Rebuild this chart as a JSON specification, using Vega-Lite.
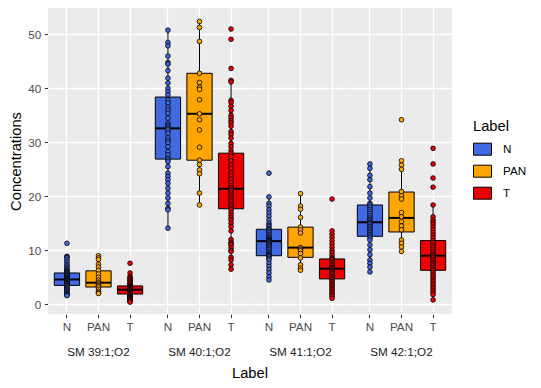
{
"$schema": "https://vega.github.io/schema/vega-lite/v6.json",
"padding": {"left": 8, "top": 8, "right": 5, "bottom": 5},
"background": "white",
"datasets": {
"rows": [
{"group":"SM 39:1;O2","Label":"N","lower":1.6,"q1":3.5,"median":4.6,"q3":5.8,"upper":8.9},
{"group":"SM 39:1;O2","Label":"PAN","lower":2.0,"q1":3.2,"median":4.0,"q3":6.2,"upper":9.0},
{"group":"SM 39:1;O2","Label":"T","lower":0.4,"q1":1.9,"median":2.7,"q3":3.4,"upper":5.8},
{"group":"SM 40:1;O2","Label":"N","lower":14.1,"q1":26.9,"median":32.6,"q3":38.4,"upper":50.8},
{"group":"SM 40:1;O2","Label":"PAN","lower":18.4,"q1":26.7,"median":35.3,"q3":42.8,"upper":52.4},
{"group":"SM 40:1;O2","Label":"T","lower":6.5,"q1":17.7,"median":21.4,"q3":28.0,"upper":41.7},
{"group":"SM 41:1;O2","Label":"N","lower":4.5,"q1":9.0,"median":11.7,"q3":13.9,"upper":19.9},
{"group":"SM 41:1;O2","Label":"PAN","lower":6.3,"q1":8.7,"median":10.5,"q3":14.3,"upper":20.5},
{"group":"SM 41:1;O2","Label":"T","lower":1.1,"q1":4.7,"median":6.6,"q3":8.4,"upper":13.6},
{"group":"SM 42:1;O2","Label":"N","lower":6.0,"q1":12.6,"median":15.2,"q3":18.4,"upper":26.0},
{"group":"SM 42:1;O2","Label":"PAN","lower":9.8,"q1":13.4,"median":16.0,"q3":20.8,"upper":26.6},
{"group":"SM 42:1;O2","Label":"T","lower":0.7,"q1":6.3,"median":9.0,"q3":11.8,"upper":18.4},
{"group":"SM 39:1;O2","Label":"N","value":11.3},{"group":"SM 39:1;O2","Label":"N","value":8.9},{"group":"SM 39:1;O2","Label":"N","value":8.8},{"group":"SM 39:1;O2","Label":"N","value":8.6},{"group":"SM 39:1;O2","Label":"N","value":8.2},{"group":"SM 39:1;O2","Label":"N","value":7.8},{"group":"SM 39:1;O2","Label":"N","value":7.4},{"group":"SM 39:1;O2","Label":"N","value":7.1},{"group":"SM 39:1;O2","Label":"N","value":6.8},{"group":"SM 39:1;O2","Label":"N","value":6.5},{"group":"SM 39:1;O2","Label":"N","value":6.3},{"group":"SM 39:1;O2","Label":"N","value":6.1},{"group":"SM 39:1;O2","Label":"N","value":5.9},{"group":"SM 39:1;O2","Label":"N","value":5.8},{"group":"SM 39:1;O2","Label":"N","value":5.6},{"group":"SM 39:1;O2","Label":"N","value":5.5},{"group":"SM 39:1;O2","Label":"N","value":5.3},{"group":"SM 39:1;O2","Label":"N","value":5.2},{"group":"SM 39:1;O2","Label":"N","value":5.0},{"group":"SM 39:1;O2","Label":"N","value":4.9},{"group":"SM 39:1;O2","Label":"N","value":4.8},{"group":"SM 39:1;O2","Label":"N","value":4.7},{"group":"SM 39:1;O2","Label":"N","value":4.6},{"group":"SM 39:1;O2","Label":"N","value":4.5},{"group":"SM 39:1;O2","Label":"N","value":4.4},{"group":"SM 39:1;O2","Label":"N","value":4.3},{"group":"SM 39:1;O2","Label":"N","value":4.2},{"group":"SM 39:1;O2","Label":"N","value":4.1},{"group":"SM 39:1;O2","Label":"N","value":4.0},{"group":"SM 39:1;O2","Label":"N","value":3.9},{"group":"SM 39:1;O2","Label":"N","value":3.8},{"group":"SM 39:1;O2","Label":"N","value":3.7},{"group":"SM 39:1;O2","Label":"N","value":3.6},{"group":"SM 39:1;O2","Label":"N","value":3.5},{"group":"SM 39:1;O2","Label":"N","value":3.4},{"group":"SM 39:1;O2","Label":"N","value":3.2},{"group":"SM 39:1;O2","Label":"N","value":3.0},{"group":"SM 39:1;O2","Label":"N","value":2.8},{"group":"SM 39:1;O2","Label":"N","value":2.6},{"group":"SM 39:1;O2","Label":"N","value":2.4},{"group":"SM 39:1;O2","Label":"N","value":2.2},{"group":"SM 39:1;O2","Label":"N","value":2.0},{"group":"SM 39:1;O2","Label":"N","value":1.8},{"group":"SM 39:1;O2","Label":"N","value":1.7},{"group":"SM 39:1;O2","Label":"N","value":1.6},
{"group":"SM 39:1;O2","Label":"PAN","value":9.0},{"group":"SM 39:1;O2","Label":"PAN","value":8.6},{"group":"SM 39:1;O2","Label":"PAN","value":8.3},{"group":"SM 39:1;O2","Label":"PAN","value":7.4},{"group":"SM 39:1;O2","Label":"PAN","value":6.9},{"group":"SM 39:1;O2","Label":"PAN","value":6.3},{"group":"SM 39:1;O2","Label":"PAN","value":5.6},{"group":"SM 39:1;O2","Label":"PAN","value":5.0},{"group":"SM 39:1;O2","Label":"PAN","value":4.5},{"group":"SM 39:1;O2","Label":"PAN","value":4.1},{"group":"SM 39:1;O2","Label":"PAN","value":3.9},{"group":"SM 39:1;O2","Label":"PAN","value":3.6},{"group":"SM 39:1;O2","Label":"PAN","value":3.4},{"group":"SM 39:1;O2","Label":"PAN","value":3.2},{"group":"SM 39:1;O2","Label":"PAN","value":2.8},{"group":"SM 39:1;O2","Label":"PAN","value":2.4},{"group":"SM 39:1;O2","Label":"PAN","value":2.1},{"group":"SM 39:1;O2","Label":"PAN","value":2.0},
{"group":"SM 39:1;O2","Label":"T","value":7.6},{"group":"SM 39:1;O2","Label":"T","value":5.8},{"group":"SM 39:1;O2","Label":"T","value":5.2},{"group":"SM 39:1;O2","Label":"T","value":4.9},{"group":"SM 39:1;O2","Label":"T","value":4.7},{"group":"SM 39:1;O2","Label":"T","value":4.5},{"group":"SM 39:1;O2","Label":"T","value":4.3},{"group":"SM 39:1;O2","Label":"T","value":4.1},{"group":"SM 39:1;O2","Label":"T","value":3.9},{"group":"SM 39:1;O2","Label":"T","value":3.7},{"group":"SM 39:1;O2","Label":"T","value":3.5},{"group":"SM 39:1;O2","Label":"T","value":3.4},{"group":"SM 39:1;O2","Label":"T","value":3.3},{"group":"SM 39:1;O2","Label":"T","value":3.2},{"group":"SM 39:1;O2","Label":"T","value":3.1},{"group":"SM 39:1;O2","Label":"T","value":3.0},{"group":"SM 39:1;O2","Label":"T","value":2.9},{"group":"SM 39:1;O2","Label":"T","value":2.8},{"group":"SM 39:1;O2","Label":"T","value":2.75},{"group":"SM 39:1;O2","Label":"T","value":2.7},{"group":"SM 39:1;O2","Label":"T","value":2.65},{"group":"SM 39:1;O2","Label":"T","value":2.6},{"group":"SM 39:1;O2","Label":"T","value":2.5},{"group":"SM 39:1;O2","Label":"T","value":2.4},{"group":"SM 39:1;O2","Label":"T","value":2.3},{"group":"SM 39:1;O2","Label":"T","value":2.2},{"group":"SM 39:1;O2","Label":"T","value":2.1},{"group":"SM 39:1;O2","Label":"T","value":2.0},{"group":"SM 39:1;O2","Label":"T","value":1.95},{"group":"SM 39:1;O2","Label":"T","value":1.9},{"group":"SM 39:1;O2","Label":"T","value":1.8},{"group":"SM 39:1;O2","Label":"T","value":1.7},{"group":"SM 39:1;O2","Label":"T","value":1.6},{"group":"SM 39:1;O2","Label":"T","value":1.5},{"group":"SM 39:1;O2","Label":"T","value":1.4},{"group":"SM 39:1;O2","Label":"T","value":1.3},{"group":"SM 39:1;O2","Label":"T","value":1.2},{"group":"SM 39:1;O2","Label":"T","value":1.1},{"group":"SM 39:1;O2","Label":"T","value":1.0},{"group":"SM 39:1;O2","Label":"T","value":0.9},{"group":"SM 39:1;O2","Label":"T","value":0.8},{"group":"SM 39:1;O2","Label":"T","value":0.6},{"group":"SM 39:1;O2","Label":"T","value":0.5},{"group":"SM 39:1;O2","Label":"T","value":0.4},
{"group":"SM 40:1;O2","Label":"N","value":50.8},{"group":"SM 40:1;O2","Label":"N","value":48.5},{"group":"SM 40:1;O2","Label":"N","value":47.9},{"group":"SM 40:1;O2","Label":"N","value":46.0},{"group":"SM 40:1;O2","Label":"N","value":44.8},{"group":"SM 40:1;O2","Label":"N","value":44.5},{"group":"SM 40:1;O2","Label":"N","value":43.3},{"group":"SM 40:1;O2","Label":"N","value":41.9},{"group":"SM 40:1;O2","Label":"N","value":41.0},{"group":"SM 40:1;O2","Label":"N","value":40.0},{"group":"SM 40:1;O2","Label":"N","value":39.4},{"group":"SM 40:1;O2","Label":"N","value":38.8},{"group":"SM 40:1;O2","Label":"N","value":37.9},{"group":"SM 40:1;O2","Label":"N","value":37.3},{"group":"SM 40:1;O2","Label":"N","value":36.5},{"group":"SM 40:1;O2","Label":"N","value":36.0},{"group":"SM 40:1;O2","Label":"N","value":35.4},{"group":"SM 40:1;O2","Label":"N","value":34.5},{"group":"SM 40:1;O2","Label":"N","value":33.6},{"group":"SM 40:1;O2","Label":"N","value":33.2},{"group":"SM 40:1;O2","Label":"N","value":32.9},{"group":"SM 40:1;O2","Label":"N","value":32.6},{"group":"SM 40:1;O2","Label":"N","value":32.3},{"group":"SM 40:1;O2","Label":"N","value":31.7},{"group":"SM 40:1;O2","Label":"N","value":30.8},{"group":"SM 40:1;O2","Label":"N","value":30.3},{"group":"SM 40:1;O2","Label":"N","value":29.9},{"group":"SM 40:1;O2","Label":"N","value":29.2},{"group":"SM 40:1;O2","Label":"N","value":28.3},{"group":"SM 40:1;O2","Label":"N","value":27.7},{"group":"SM 40:1;O2","Label":"N","value":27.1},{"group":"SM 40:1;O2","Label":"N","value":26.8},{"group":"SM 40:1;O2","Label":"N","value":26.4},{"group":"SM 40:1;O2","Label":"N","value":25.5},{"group":"SM 40:1;O2","Label":"N","value":24.3},{"group":"SM 40:1;O2","Label":"N","value":23.7},{"group":"SM 40:1;O2","Label":"N","value":23.1},{"group":"SM 40:1;O2","Label":"N","value":22.4},{"group":"SM 40:1;O2","Label":"N","value":21.5},{"group":"SM 40:1;O2","Label":"N","value":20.6},{"group":"SM 40:1;O2","Label":"N","value":19.7},{"group":"SM 40:1;O2","Label":"N","value":18.7},{"group":"SM 40:1;O2","Label":"N","value":17.8},{"group":"SM 40:1;O2","Label":"N","value":17.5},{"group":"SM 40:1;O2","Label":"N","value":14.1},
{"group":"SM 40:1;O2","Label":"PAN","value":52.4},{"group":"SM 40:1;O2","Label":"PAN","value":51.3},{"group":"SM 40:1;O2","Label":"PAN","value":48.7},{"group":"SM 40:1;O2","Label":"PAN","value":42.8},{"group":"SM 40:1;O2","Label":"PAN","value":41.1},{"group":"SM 40:1;O2","Label":"PAN","value":40.2},{"group":"SM 40:1;O2","Label":"PAN","value":39.8},{"group":"SM 40:1;O2","Label":"PAN","value":37.9},{"group":"SM 40:1;O2","Label":"PAN","value":35.3},{"group":"SM 40:1;O2","Label":"PAN","value":34.2},{"group":"SM 40:1;O2","Label":"PAN","value":32.3},{"group":"SM 40:1;O2","Label":"PAN","value":29.1},{"group":"SM 40:1;O2","Label":"PAN","value":26.7},{"group":"SM 40:1;O2","Label":"PAN","value":25.9},{"group":"SM 40:1;O2","Label":"PAN","value":24.9},{"group":"SM 40:1;O2","Label":"PAN","value":24.2},{"group":"SM 40:1;O2","Label":"PAN","value":20.6},{"group":"SM 40:1;O2","Label":"PAN","value":18.4},
{"group":"SM 40:1;O2","Label":"T","value":51.0},{"group":"SM 40:1;O2","Label":"T","value":49.1},{"group":"SM 40:1;O2","Label":"T","value":43.7},{"group":"SM 40:1;O2","Label":"T","value":41.5},{"group":"SM 40:1;O2","Label":"T","value":41.2},{"group":"SM 40:1;O2","Label":"T","value":37.8},{"group":"SM 40:1;O2","Label":"T","value":37.4},{"group":"SM 40:1;O2","Label":"T","value":36.7},{"group":"SM 40:1;O2","Label":"T","value":35.9},{"group":"SM 40:1;O2","Label":"T","value":35.0},{"group":"SM 40:1;O2","Label":"T","value":34.5},{"group":"SM 40:1;O2","Label":"T","value":34.0},{"group":"SM 40:1;O2","Label":"T","value":33.6},{"group":"SM 40:1;O2","Label":"T","value":33.0},{"group":"SM 40:1;O2","Label":"T","value":32.0},{"group":"SM 40:1;O2","Label":"T","value":31.5},{"group":"SM 40:1;O2","Label":"T","value":30.8},{"group":"SM 40:1;O2","Label":"T","value":29.8},{"group":"SM 40:1;O2","Label":"T","value":29.2},{"group":"SM 40:1;O2","Label":"T","value":28.5},{"group":"SM 40:1;O2","Label":"T","value":28.0},{"group":"SM 40:1;O2","Label":"T","value":27.4},{"group":"SM 40:1;O2","Label":"T","value":26.6},{"group":"SM 40:1;O2","Label":"T","value":25.8},{"group":"SM 40:1;O2","Label":"T","value":25.2},{"group":"SM 40:1;O2","Label":"T","value":24.3},{"group":"SM 40:1;O2","Label":"T","value":23.8},{"group":"SM 40:1;O2","Label":"T","value":23.2},{"group":"SM 40:1;O2","Label":"T","value":22.6},{"group":"SM 40:1;O2","Label":"T","value":22.0},{"group":"SM 40:1;O2","Label":"T","value":21.6},{"group":"SM 40:1;O2","Label":"T","value":21.3},{"group":"SM 40:1;O2","Label":"T","value":21.0},{"group":"SM 40:1;O2","Label":"T","value":20.6},{"group":"SM 40:1;O2","Label":"T","value":20.2},{"group":"SM 40:1;O2","Label":"T","value":19.8},{"group":"SM 40:1;O2","Label":"T","value":19.4},{"group":"SM 40:1;O2","Label":"T","value":19.0},{"group":"SM 40:1;O2","Label":"T","value":18.6},{"group":"SM 40:1;O2","Label":"T","value":18.2},{"group":"SM 40:1;O2","Label":"T","value":17.8},{"group":"SM 40:1;O2","Label":"T","value":17.5},{"group":"SM 40:1;O2","Label":"T","value":17.0},{"group":"SM 40:1;O2","Label":"T","value":16.5},{"group":"SM 40:1;O2","Label":"T","value":16.0},{"group":"SM 40:1;O2","Label":"T","value":15.6},{"group":"SM 40:1;O2","Label":"T","value":15.0},{"group":"SM 40:1;O2","Label":"T","value":14.4},{"group":"SM 40:1;O2","Label":"T","value":13.6},{"group":"SM 40:1;O2","Label":"T","value":12.0},{"group":"SM 40:1;O2","Label":"T","value":11.5},{"group":"SM 40:1;O2","Label":"T","value":11.2},{"group":"SM 40:1;O2","Label":"T","value":11.0},{"group":"SM 40:1;O2","Label":"T","value":10.5},{"group":"SM 40:1;O2","Label":"T","value":10.0},{"group":"SM 40:1;O2","Label":"T","value":9.8},{"group":"SM 40:1;O2","Label":"T","value":8.7},{"group":"SM 40:1;O2","Label":"T","value":8.2},{"group":"SM 40:1;O2","Label":"T","value":7.3},{"group":"SM 40:1;O2","Label":"T","value":6.5},
{"group":"SM 41:1;O2","Label":"N","value":24.3},{"group":"SM 41:1;O2","Label":"N","value":19.9},{"group":"SM 41:1;O2","Label":"N","value":18.7},{"group":"SM 41:1;O2","Label":"N","value":18.2},{"group":"SM 41:1;O2","Label":"N","value":17.5},{"group":"SM 41:1;O2","Label":"N","value":16.9},{"group":"SM 41:1;O2","Label":"N","value":16.3},{"group":"SM 41:1;O2","Label":"N","value":15.6},{"group":"SM 41:1;O2","Label":"N","value":15.0},{"group":"SM 41:1;O2","Label":"N","value":14.6},{"group":"SM 41:1;O2","Label":"N","value":14.4},{"group":"SM 41:1;O2","Label":"N","value":14.0},{"group":"SM 41:1;O2","Label":"N","value":13.8},{"group":"SM 41:1;O2","Label":"N","value":13.5},{"group":"SM 41:1;O2","Label":"N","value":13.2},{"group":"SM 41:1;O2","Label":"N","value":12.9},{"group":"SM 41:1;O2","Label":"N","value":12.6},{"group":"SM 41:1;O2","Label":"N","value":12.3},{"group":"SM 41:1;O2","Label":"N","value":12.1},{"group":"SM 41:1;O2","Label":"N","value":11.9},{"group":"SM 41:1;O2","Label":"N","value":11.8},{"group":"SM 41:1;O2","Label":"N","value":11.7},{"group":"SM 41:1;O2","Label":"N","value":11.6},{"group":"SM 41:1;O2","Label":"N","value":11.4},{"group":"SM 41:1;O2","Label":"N","value":11.2},{"group":"SM 41:1;O2","Label":"N","value":11.0},{"group":"SM 41:1;O2","Label":"N","value":10.8},{"group":"SM 41:1;O2","Label":"N","value":10.6},{"group":"SM 41:1;O2","Label":"N","value":10.4},{"group":"SM 41:1;O2","Label":"N","value":10.1},{"group":"SM 41:1;O2","Label":"N","value":9.8},{"group":"SM 41:1;O2","Label":"N","value":9.5},{"group":"SM 41:1;O2","Label":"N","value":9.3},{"group":"SM 41:1;O2","Label":"N","value":9.1},{"group":"SM 41:1;O2","Label":"N","value":9.0},{"group":"SM 41:1;O2","Label":"N","value":8.8},{"group":"SM 41:1;O2","Label":"N","value":8.5},{"group":"SM 41:1;O2","Label":"N","value":8.2},{"group":"SM 41:1;O2","Label":"N","value":7.6},{"group":"SM 41:1;O2","Label":"N","value":7.0},{"group":"SM 41:1;O2","Label":"N","value":6.4},{"group":"SM 41:1;O2","Label":"N","value":5.8},{"group":"SM 41:1;O2","Label":"N","value":5.1},{"group":"SM 41:1;O2","Label":"N","value":4.5},
{"group":"SM 41:1;O2","Label":"PAN","value":20.5},{"group":"SM 41:1;O2","Label":"PAN","value":18.2},{"group":"SM 41:1;O2","Label":"PAN","value":17.6},{"group":"SM 41:1;O2","Label":"PAN","value":16.1},{"group":"SM 41:1;O2","Label":"PAN","value":14.3},{"group":"SM 41:1;O2","Label":"PAN","value":13.8},{"group":"SM 41:1;O2","Label":"PAN","value":13.2},{"group":"SM 41:1;O2","Label":"PAN","value":10.5},{"group":"SM 41:1;O2","Label":"PAN","value":10.4},{"group":"SM 41:1;O2","Label":"PAN","value":10.1},{"group":"SM 41:1;O2","Label":"PAN","value":9.9},{"group":"SM 41:1;O2","Label":"PAN","value":9.4},{"group":"SM 41:1;O2","Label":"PAN","value":8.6},{"group":"SM 41:1;O2","Label":"PAN","value":7.3},{"group":"SM 41:1;O2","Label":"PAN","value":6.7},{"group":"SM 41:1;O2","Label":"PAN","value":6.3},
{"group":"SM 41:1;O2","Label":"T","value":19.5},{"group":"SM 41:1;O2","Label":"T","value":13.6},{"group":"SM 41:1;O2","Label":"T","value":13.0},{"group":"SM 41:1;O2","Label":"T","value":12.4},{"group":"SM 41:1;O2","Label":"T","value":11.8},{"group":"SM 41:1;O2","Label":"T","value":11.2},{"group":"SM 41:1;O2","Label":"T","value":10.6},{"group":"SM 41:1;O2","Label":"T","value":10.0},{"group":"SM 41:1;O2","Label":"T","value":9.5},{"group":"SM 41:1;O2","Label":"T","value":9.0},{"group":"SM 41:1;O2","Label":"T","value":8.6},{"group":"SM 41:1;O2","Label":"T","value":8.4},{"group":"SM 41:1;O2","Label":"T","value":8.3},{"group":"SM 41:1;O2","Label":"T","value":8.0},{"group":"SM 41:1;O2","Label":"T","value":7.7},{"group":"SM 41:1;O2","Label":"T","value":7.4},{"group":"SM 41:1;O2","Label":"T","value":7.1},{"group":"SM 41:1;O2","Label":"T","value":6.9},{"group":"SM 41:1;O2","Label":"T","value":6.7},{"group":"SM 41:1;O2","Label":"T","value":6.6},{"group":"SM 41:1;O2","Label":"T","value":6.5},{"group":"SM 41:1;O2","Label":"T","value":6.3},{"group":"SM 41:1;O2","Label":"T","value":6.1},{"group":"SM 41:1;O2","Label":"T","value":5.9},{"group":"SM 41:1;O2","Label":"T","value":5.7},{"group":"SM 41:1;O2","Label":"T","value":5.4},{"group":"SM 41:1;O2","Label":"T","value":5.1},{"group":"SM 41:1;O2","Label":"T","value":4.9},{"group":"SM 41:1;O2","Label":"T","value":4.7},{"group":"SM 41:1;O2","Label":"T","value":4.5},{"group":"SM 41:1;O2","Label":"T","value":4.2},{"group":"SM 41:1;O2","Label":"T","value":3.9},{"group":"SM 41:1;O2","Label":"T","value":3.6},{"group":"SM 41:1;O2","Label":"T","value":3.3},{"group":"SM 41:1;O2","Label":"T","value":3.0},{"group":"SM 41:1;O2","Label":"T","value":2.7},{"group":"SM 41:1;O2","Label":"T","value":2.4},{"group":"SM 41:1;O2","Label":"T","value":2.1},{"group":"SM 41:1;O2","Label":"T","value":1.8},{"group":"SM 41:1;O2","Label":"T","value":1.5},{"group":"SM 41:1;O2","Label":"T","value":1.1},
{"group":"SM 42:1;O2","Label":"N","value":26.0},{"group":"SM 42:1;O2","Label":"N","value":25.2},{"group":"SM 42:1;O2","Label":"N","value":23.9},{"group":"SM 42:1;O2","Label":"N","value":23.1},{"group":"SM 42:1;O2","Label":"N","value":21.8},{"group":"SM 42:1;O2","Label":"N","value":20.6},{"group":"SM 42:1;O2","Label":"N","value":19.7},{"group":"SM 42:1;O2","Label":"N","value":18.7},{"group":"SM 42:1;O2","Label":"N","value":18.4},{"group":"SM 42:1;O2","Label":"N","value":18.0},{"group":"SM 42:1;O2","Label":"N","value":17.6},{"group":"SM 42:1;O2","Label":"N","value":17.2},{"group":"SM 42:1;O2","Label":"N","value":16.8},{"group":"SM 42:1;O2","Label":"N","value":16.4},{"group":"SM 42:1;O2","Label":"N","value":16.0},{"group":"SM 42:1;O2","Label":"N","value":15.7},{"group":"SM 42:1;O2","Label":"N","value":15.4},{"group":"SM 42:1;O2","Label":"N","value":15.2},{"group":"SM 42:1;O2","Label":"N","value":15.0},{"group":"SM 42:1;O2","Label":"N","value":14.7},{"group":"SM 42:1;O2","Label":"N","value":14.4},{"group":"SM 42:1;O2","Label":"N","value":14.1},{"group":"SM 42:1;O2","Label":"N","value":13.8},{"group":"SM 42:1;O2","Label":"N","value":13.5},{"group":"SM 42:1;O2","Label":"N","value":13.2},{"group":"SM 42:1;O2","Label":"N","value":12.9},{"group":"SM 42:1;O2","Label":"N","value":12.6},{"group":"SM 42:1;O2","Label":"N","value":12.3},{"group":"SM 42:1;O2","Label":"N","value":11.9},{"group":"SM 42:1;O2","Label":"N","value":11.0},{"group":"SM 42:1;O2","Label":"N","value":10.1},{"group":"SM 42:1;O2","Label":"N","value":9.2},{"group":"SM 42:1;O2","Label":"N","value":8.2},{"group":"SM 42:1;O2","Label":"N","value":7.6},{"group":"SM 42:1;O2","Label":"N","value":6.9},{"group":"SM 42:1;O2","Label":"N","value":6.0},
{"group":"SM 42:1;O2","Label":"PAN","value":34.2},{"group":"SM 42:1;O2","Label":"PAN","value":26.6},{"group":"SM 42:1;O2","Label":"PAN","value":25.8},{"group":"SM 42:1;O2","Label":"PAN","value":25.0},{"group":"SM 42:1;O2","Label":"PAN","value":20.9},{"group":"SM 42:1;O2","Label":"PAN","value":20.1},{"group":"SM 42:1;O2","Label":"PAN","value":19.5},{"group":"SM 42:1;O2","Label":"PAN","value":17.0},{"group":"SM 42:1;O2","Label":"PAN","value":16.2},{"group":"SM 42:1;O2","Label":"PAN","value":15.3},{"group":"SM 42:1;O2","Label":"PAN","value":14.5},{"group":"SM 42:1;O2","Label":"PAN","value":13.8},{"group":"SM 42:1;O2","Label":"PAN","value":11.9},{"group":"SM 42:1;O2","Label":"PAN","value":11.3},{"group":"SM 42:1;O2","Label":"PAN","value":10.6},{"group":"SM 42:1;O2","Label":"PAN","value":9.8},
{"group":"SM 42:1;O2","Label":"T","value":28.9},{"group":"SM 42:1;O2","Label":"T","value":26.0},{"group":"SM 42:1;O2","Label":"T","value":23.4},{"group":"SM 42:1;O2","Label":"T","value":21.7},{"group":"SM 42:1;O2","Label":"T","value":18.4},{"group":"SM 42:1;O2","Label":"T","value":16.2},{"group":"SM 42:1;O2","Label":"T","value":15.6},{"group":"SM 42:1;O2","Label":"T","value":15.2},{"group":"SM 42:1;O2","Label":"T","value":14.8},{"group":"SM 42:1;O2","Label":"T","value":14.3},{"group":"SM 42:1;O2","Label":"T","value":13.8},{"group":"SM 42:1;O2","Label":"T","value":13.3},{"group":"SM 42:1;O2","Label":"T","value":12.8},{"group":"SM 42:1;O2","Label":"T","value":12.3},{"group":"SM 42:1;O2","Label":"T","value":11.8},{"group":"SM 42:1;O2","Label":"T","value":11.4},{"group":"SM 42:1;O2","Label":"T","value":11.0},{"group":"SM 42:1;O2","Label":"T","value":10.6},{"group":"SM 42:1;O2","Label":"T","value":10.2},{"group":"SM 42:1;O2","Label":"T","value":9.8},{"group":"SM 42:1;O2","Label":"T","value":9.4},{"group":"SM 42:1;O2","Label":"T","value":9.1},{"group":"SM 42:1;O2","Label":"T","value":8.9},{"group":"SM 42:1;O2","Label":"T","value":8.6},{"group":"SM 42:1;O2","Label":"T","value":8.3},{"group":"SM 42:1;O2","Label":"T","value":8.0},{"group":"SM 42:1;O2","Label":"T","value":7.7},{"group":"SM 42:1;O2","Label":"T","value":7.4},{"group":"SM 42:1;O2","Label":"T","value":7.1},{"group":"SM 42:1;O2","Label":"T","value":6.8},{"group":"SM 42:1;O2","Label":"T","value":6.5},{"group":"SM 42:1;O2","Label":"T","value":6.2},{"group":"SM 42:1;O2","Label":"T","value":5.8},{"group":"SM 42:1;O2","Label":"T","value":5.4},{"group":"SM 42:1;O2","Label":"T","value":5.0},{"group":"SM 42:1;O2","Label":"T","value":4.6},{"group":"SM 42:1;O2","Label":"T","value":4.2},{"group":"SM 42:1;O2","Label":"T","value":3.8},{"group":"SM 42:1;O2","Label":"T","value":3.4},{"group":"SM 42:1;O2","Label":"T","value":3.0},{"group":"SM 42:1;O2","Label":"T","value":2.6},{"group":"SM 42:1;O2","Label":"T","value":2.2},{"group":"SM 42:1;O2","Label":"T","value":1.8},{"group":"SM 42:1;O2","Label":"T","value":0.8}
]
},
"data": {"name": "rows"},
"facet": {"column": {"field": "group", "type": "nominal", "title": "Label",
  "header": {"titleOrient": "bottom", "labelOrient": "bottom"}}},
"spacing": 0,
"spec": {
  "width": 101,
  "height": 306,
  "encoding": {
    "x": {"field": "Label", "type": "nominal",
      "scale": {"domain": ["N", "PAN", "T"], "paddingInner": 0.2, "paddingOuter": 0.2},
      "axis": {"title": null, "labelAngle": 0, "grid": true, "bandPosition": 0.5, "gridWidth": 1.4}}
  },
  "layer": [
    {"transform": [{"filter": {"field": "q1", "valid": true}}],
     "mark": {"type": "rule", "color": "black", "strokeWidth": 1},
     "encoding": {
       "y": {"field": "lower", "type": "quantitative",
         "scale": {"domain": [-1.8, 54.9], "nice": false, "zero": false},
         "axis": {"title": "Concentrations", "values": [0,5,10,15,20,25,30,35,40,45,50],
           "labelExpr": "datum.value % 10 === 0 ? datum.label : ''",
           "gridWidth": {"condition": {"test": "datum.value % 10 !== 0", "value": 0.7}, "value": 1.4},
           "tickOpacity": {"condition": {"test": "datum.value % 10 !== 0", "value": 0}, "value": 1}}},
       "y2": {"field": "upper"}}},
    {"transform": [{"filter": {"field": "q1", "valid": true}}],
     "mark": {"type": "bar", "stroke": "black", "strokeWidth": 1},
     "encoding": {
       "y": {"field": "q1", "type": "quantitative", "title": "Concentrations"},
       "y2": {"field": "q3"},
       "fill": {"field": "Label", "type": "nominal", "title": "Label",
         "scale": {"domain": ["N", "PAN", "T"], "range": ["#4169E1", "#FFA500", "#EE0000"]}}}},
    {"transform": [{"filter": {"field": "q1", "valid": true}}],
     "mark": {"type": "tick", "color": "black", "thickness": 2, "size": 25, "opacity": 1},
     "encoding": {
       "y": {"field": "median", "type": "quantitative", "title": "Concentrations"}}},
    {"transform": [{"filter": {"field": "value", "valid": true}}],
     "mark": {"type": "point", "shape": "circle", "filled": true, "stroke": "black", "strokeWidth": 0.8, "size": 22, "opacity": 1},
     "encoding": {
       "y": {"field": "value", "type": "quantitative", "title": "Concentrations"},
       "fill": {"field": "Label", "type": "nominal", "title": "Label"}}}
  ]
},
"config": {
  "font": "Liberation Sans",
  "view": {"fill": "#EBEBEB", "stroke": null},
  "axis": {"domain": false, "gridColor": "white", "labelColor": "#4D4D4D", "labelFontSize": 11.7,
    "tickColor": "#333333", "tickSize": 3.7, "tickWidth": 1, "labelPadding": 3.5,
    "titleFontSize": 14.7, "titleFontWeight": "normal", "titleColor": "black"},
  "header": {"labelFontSize": 11.7, "labelColor": "#1A1A1A", "labelPadding": 14,
    "titleFontSize": 14.7, "titleFontWeight": "normal", "titleColor": "black", "titlePadding": -3},
  "legend": {"orient": "none", "legendX": 425, "legendY": 111,
    "titleFontSize": 14.7, "titleFontWeight": "normal", "titleColor": "black", "titlePadding": 6,
    "labelFontSize": 11.7, "labelColor": "black", "labelOffset": 11,
    "symbolType": "M-1,-0.667L1,-0.667L1,0.667L-1,0.667Z", "symbolSize": 324,
    "symbolStrokeColor": "black", "symbolStrokeWidth": 1, "symbolOpacity": 1, "rowPadding": 4}
}
}
